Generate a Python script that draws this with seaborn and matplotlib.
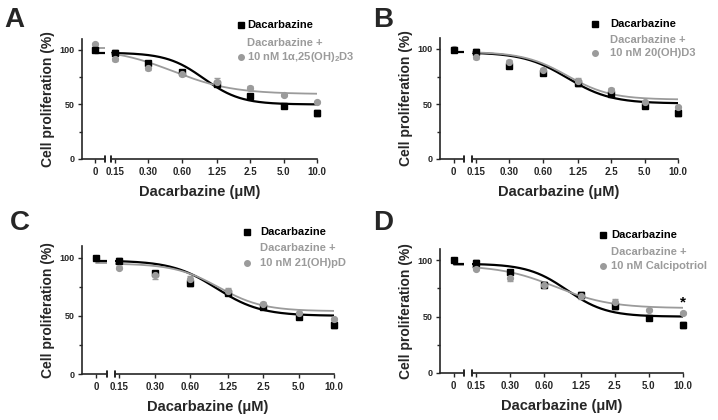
import numpy as np
import matplotlib
matplotlib.use("Agg")
import matplotlib.pyplot as plt
import seaborn as sns

sns.set_style("ticks")
plt.rcParams['font.family'] = ['Liberation Sans', 'DejaVu Sans']
plt.rcParams['font.weight'] = 'bold'
plt.rcParams['mathtext.fontset'] = 'custom'
plt.rcParams['mathtext.bf'] = 'Liberation Sans:bold'
plt.rcParams['mathtext.rm'] = 'Liberation Sans:bold'
plt.rcParams['mathtext.default'] = 'bf'

# doses (first point of each series is the 0 uM control)
doses = [0.15, 0.30, 0.60, 1.25, 2.5, 5.0, 10.0]
dose_labels = ["0.15", "0.30", "0.60", "1.25", "2.5", "5.0", "10.0"]

# panel A - 1a,25(OH)2D3
dac_a = [100, 97.5, 88, 80, 69, 58, 48.5, 42]
dac_err_a = [1.5, 2.5, 2, 2, 2.5, 2, 2, 2.5]
combo_a = [105.5, 91.5, 83.5, 78, 71, 65, 59, 52]
combo_err_a = [1, 1.5, 2, 2, 3, 1.5, 1, 1]
fit_dac_a = (97.5, 50, 0.95, 2.6)      # top, bottom, EC50, hill
fit_combo_a = (101.5, 59.5, 0.5, 1.6)

# panel B - 20(OH)D3
dac_b = [99, 97.5, 85, 78, 69, 59, 48, 42]
dac_err_b = [1.5, 2.5, 2, 2, 2.5, 2, 2, 2.5]
combo_b = [100, 93, 88, 81, 71, 63, 51.5, 47]
combo_err_b = [1.5, 2.5, 2, 2, 2.5, 1.5, 1.5, 1.5]
fit_dac_b = (97, 50.5, 1.0, 2.2)
fit_combo_b = (97.5, 54, 1.0, 2.2)

# panel C - 21(OH)pD
dac_c = [100, 97.5, 86.5, 78, 70, 58, 49, 42]
dac_err_c = [1.5, 2.5, 2, 2, 2.5, 2, 2, 2.5]
combo_c = [100, 91.5, 85, 82, 71, 60.5, 52.5, 47]
combo_err_c = [1.5, 1, 3, 2.5, 2.5, 1.5, 1, 1]
fit_dac_c = (97.5, 50, 1.0, 2.3)
fit_combo_c = (95, 54, 1.05, 2.3)

# panel D - Calcipotriol
dac_d = [100, 98, 89.5, 78.5, 69.5, 59, 49, 42.5]
dac_err_d = [1.5, 2.5, 2, 2, 2.5, 2, 2, 2.5]
combo_d = [100, 92, 84.5, 78, 68, 63, 56, 53.5]
combo_err_d = [1.5, 1, 3, 2.5, 2.5, 3, 1, 1]
fit_dac_d = (97, 50, 0.95, 2.5)
fit_combo_d = (95.5, 57.5, 0.75, 1.8)

combo_names = ["10 nM 1$\\alpha$,25(OH)$_2$D3", "10 nM 20(OH)D3",
               "10 nM 21(OH)pD", "10 nM Calcipotriol"]

BLACK = "#000000"
GRAY = "#9b9b9b"
W, H = 718, 420


def fx(px):
    return px / W


def fy(py):
    return 1 - py / H


def logistic(x, p):
    top, bottom, ec50, hill = p
    return bottom + (top - bottom) / (1 + (x / ec50) ** hill)


fig = plt.figure(figsize=(7.18, 4.2), dpi=100)

# pixel layout: y-axis x, left seg end, right seg start, right end, top(110), bottom(0)
layouts = [
    (82, 105, 111, 317, 39, 159),
    (440, 464, 472, 678, 38, 159),
    (82, 107, 115, 334, 246, 374),
    (440, 464, 472, 683, 249, 373),
]
legend_pos = [  # marker x, text x, y1, y2, y3
    (241, 247, 25, 43, 57),
    (595, 610, 24, 40, 53),
    (247, 260, 232, 248, 263),
    (603, 611, 235, 252, 266),
]
letter_pos = [(4, 27), (373, 27), (10, 230), (373, 230)]
panels = [
    (dac_a, dac_err_a, combo_a, combo_err_a, fit_dac_a, fit_combo_a),
    (dac_b, dac_err_b, combo_b, combo_err_b, fit_dac_b, fit_combo_b),
    (dac_c, dac_err_c, combo_c, combo_err_c, fit_dac_c, fit_combo_c),
    (dac_d, dac_err_d, combo_d, combo_err_d, fit_dac_d, fit_combo_d),
]

for i, (dac, dac_err, combo, combo_err, fit_dac, fit_combo) in enumerate(panels):
    yx, le, rs, re, top, bot = layouts[i]
    axl = fig.add_axes([fx(yx), fy(bot), fx(le) - fx(yx), (bot - top) / H])
    axr = fig.add_axes([fx(rs), fy(bot), fx(re) - fx(rs), (bot - top) / H])

    # left segment: control (0 uM)
    xl_max = 0.77
    for vals, errs, fit, col, mk, ms, lw in [
        (combo, combo_err, fit_combo, GRAY, 'o', 4.2, 1.3),
        (dac, dac_err, fit_dac, BLACK, 's', 5, 1.6),
    ]:
        sns.lineplot(x=[0, xl_max], y=[fit[0], fit[0]], color=col, lw=lw, ax=axl)
        axl.errorbar([0], [vals[0]], yerr=[errs[0]], fmt=mk, color=col, ms=ms,
                     capsize=2, elinewidth=1, clip_on=False)

    # right segment: doses
    xs = np.geomspace(doses[0] * 2 ** -0.12, doses[-1], 200)
    for vals, errs, fit, col, mk, ms, lw in [
        (dac, dac_err, fit_dac, BLACK, 's', 5, 1.6),
        (combo, combo_err, fit_combo, GRAY, 'o', 4.2, 1.3),
    ]:
        sns.lineplot(x=xs, y=logistic(xs, fit), color=col, lw=lw, ax=axr)
        axr.errorbar(doses, vals[1:], yerr=errs[1:], fmt=mk, color=col, ms=ms,
                     capsize=2, elinewidth=1, clip_on=False, zorder=3)

    axl.set_xlim(-1, xl_max)
    axl.set_ylim(0, 110)
    axl.set_xticks([0])
    axl.set_xticklabels(["0"])
    axl.set_yticks([0, 50, 100])
    axl.set_yticks([25, 75], minor=True)
    sns.despine(ax=axl)

    axr.set_xscale('log', base=2)
    axr.set_xlim(doses[0] * 2 ** -0.12, doses[-1])
    axr.set_ylim(0, 110)
    axr.set_xticks(doses)
    axr.set_xticklabels(dose_labels)
    axr.minorticks_off()
    axr.set_yticks([])
    sns.despine(ax=axr, left=True)

    for ax in (axl, axr):
        ax.tick_params(axis='both', which='both', length=3, width=1, pad=2.5,
                       labelsize=7, direction='out')
        ax.tick_params(axis='y', which='minor', length=2)
        for sp in ax.spines.values():
            sp.set_linewidth(1.2)
        for lab in ax.get_xticklabels() + ax.get_yticklabels():
            lab.set_fontweight('bold')
    axl.tick_params(axis='y', labelsize=6.5)

    # axis break marks
    axl.plot([1, 1], [-0.025, 0.025], color=BLACK, lw=1.2, transform=axl.transAxes, clip_on=False)
    axr.plot([0, 0], [-0.025, 0.025], color=BLACK, lw=1.2, transform=axr.transAxes, clip_on=False)

    if i == 3:
        axr.text(doses[-1], combo[-1] + 3, "*", ha='center', va='bottom',
                 fontsize=11, fontweight='bold', color=BLACK)

    # labels
    fig.text(fx((yx + re) / 2), fy(bot + 33), "Dacarbazine (\u03bcM)", ha='center',
             va='center', fontsize=10.5, fontweight='bold')
    fig.text(fx(yx - 34), fy((top + bot) / 2), "Cell proliferation (%)", rotation=90,
             ha='center', va='center', fontsize=10, fontweight='bold')
    lx, tx = letter_pos[i]
    fig.text(fx(lx), fy(tx), "ABCD"[i], fontsize=20, fontweight='bold', va='baseline')

    # legend
    mx, tx2, y1, y2, y3 = legend_pos[i]
    fig.lines.append(plt.Line2D([fx(mx)], [fy(y1)], marker='s', ms=4.5, color=BLACK,
                                transform=fig.transFigure, figure=fig))
    fig.lines.append(plt.Line2D([fx(mx)], [fy(y3)], marker='o', ms=4, color=GRAY,
                                transform=fig.transFigure, figure=fig))
    fig.text(fx(tx2), fy(y1), "Dacarbazine", color=BLACK, fontsize=8,
             fontweight='bold', va='center')
    fig.text(fx(tx2), fy(y2), "Dacarbazine +", color=GRAY, fontsize=8,
             fontweight='bold', va='center')
    fig.text(fx(tx2), fy(y3), combo_names[i], color=GRAY, fontsize=8,
             fontweight='bold', va='center')

fig.savefig("out.png", dpi=100)
